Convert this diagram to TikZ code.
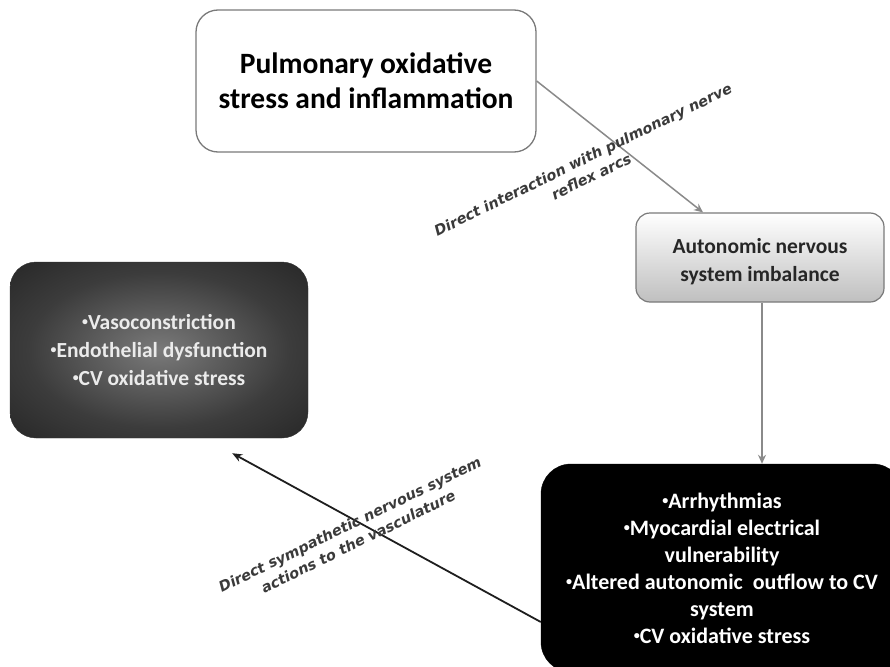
\documentclass[tikz,border=0pt]{standalone}
\usepackage{fontspec}
\usepackage{graphicx}
\setmainfont{Carlito}
\newfontfamily\lblfont{DejaVu Sans}
\usetikzlibrary{calc,arrows.meta}
\definecolor{boxline}{HTML}{7A7A7A}
\definecolor{lbltext}{HTML}{3A3A3A}
\definecolor{arrgray}{HTML}{8A8A8A}
\definecolor{arrdark}{HTML}{1E1E1E}
\definecolor{radcen}{HTML}{7A7A7A}
\definecolor{radmid}{HTML}{3C3C3C}
\newcommand{\bul}{\raisebox{0.18em}{\scalebox{0.55}{•}}}
\pgfdeclareradialshading{darkrad}{\pgfpoint{0bp}{0bp}}{%
  color(0bp)=(radcen); color(22bp)=(radmid); color(48bp)=(black!92); color(75bp)=(black)}
\tikzset{
  roundbox/.style={rectangle, rounded corners=22pt, align=center, inner sep=4pt,
    font=\bfseries},
  topbox/.style={roundbox, draw=boxline, line width=1.3pt, fill=white,
    minimum width=340pt, minimum height=142pt, font=\bfseries\fontsize{29.5}{35}\selectfont},
  ansbox/.style={roundbox, rounded corners=14pt, draw=boxline, line width=1.2pt,
    top color=white, bottom color=black!25,
    minimum width=248pt, minimum height=89pt, text=black!85,
    font=\bfseries\fontsize{21.5}{28}\selectfont},
  leftbox/.style={roundbox, rounded corners=26pt, shading=darkrad, draw=black!80,
    minimum width=298pt, minimum height=176pt, text=white!92!black,
    font=\bfseries\fontsize{21.5}{28}\selectfont},
  botbox/.style={roundbox, rounded corners=30pt, fill=black, draw=black,
    minimum width=362pt, minimum height=208pt, text=white,
    font=\bfseries\fontsize{22}{27}\selectfont},
  graylink/.style={draw=arrgray, line width=1.5pt, -{Stealth[length=9pt,width=8pt]}},
  darklink/.style={draw=arrdark, line width=1.8pt, -{Stealth[length=10pt,width=8pt]}},
  linklabel/.style={align=center, text=lbltext, inner sep=0pt,
    font=\lblfont\bfseries\itshape\fontsize{14.5}{19}\selectfont}
}
\begin{document}
\begin{tikzpicture}[x=1pt,y=-1pt]
\useasboundingbox (0,0) rectangle (890,666);
\begin{scope}
\clip (0,0) rectangle (890,666);
\node[topbox] (pulm) at (366,81) {Pulmonary oxidative\\stress and inflammation};
\node[ansbox] (ans) at (760,257.5) {\rule{0pt}{24pt}Autonomic nervous\\system imbalance};
\node[leftbox] (vaso) at (159,350) {\bul Vasoconstriction\\\bul Endothelial dysfunction\\\bul CV oxidative stress};
\node[botbox] (card) at (722,568) {\bul Arrhythmias\\\bul Myocardial electrical\\vulnerability\\\bul Altered autonomic\ \ outflow to CV\\system\\\bul CV oxidative stress};
\coordinate (vasoend) at ($(vaso.south east)+(-76,15)$);
\coordinate (ansout) at ($(ans.south)+(2,0)$);
\coordinate (cardin) at (ansout |- card.north);
\draw[graylink] (pulm.east) -- ($(ans.north)+(-57,0)$);
\draw[graylink] (ansout) -- (cardin);
\draw[darklink] ($(card.west)+(0,54)$) -- (vasoend);
\node[linklabel, rotate=26] (lbl1) at (587,168) {Direct interaction with pulmonary nerve\\reflex arcs};
\node[linklabel, rotate=26] (lbl2) at (354,533) {Direct sympathetic nervous system\\actions to the vasculature};
\end{scope}
\end{tikzpicture}
\end{document}
